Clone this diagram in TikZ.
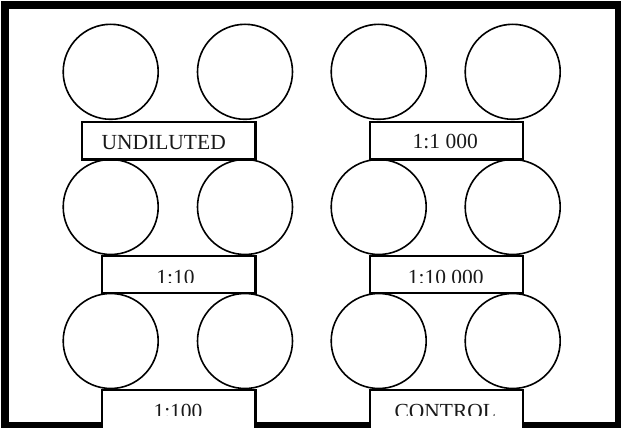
\documentclass[tikz,border=0pt]{standalone}
\usepackage{fontspec}
\setmainfont{Liberation Serif}
\begin{document}
\begin{tikzpicture}[x=1pt,y=-1pt,
  well/.style={draw, circle, line width=1.6pt, minimum size=95pt, inner sep=0pt},
  lblbox/.style={draw, fill=white, rectangle, line width=2.4pt, inner sep=0pt},
  lbltext/.style={inner sep=0pt, anchor=base, font=\fontsize{21.5}{24}\selectfont, text=black!90}]
\useasboundingbox (0,0) rectangle (621,428);
\clip (0,0) rectangle (621,428);
% frame
\draw[line width=7.5pt] (5,5) rectangle (618.5,425.5);
% wells
\foreach \r/\y in {1/71.8,2/207,3/341}{
  \foreach \c/\x in {1/110.7,2/245,3/378.7,4/512.7}{
    \node[well] (w\r\c) at (\x,\y) {};
  }
}
% label boxes
\node[lblbox, minimum width=173.6pt, minimum height=37.6pt] (bu) at (168.7,140.7) {};
\node[lbltext] (tu) at (163.7,149) {UNDILUTED};
\node[lblbox, minimum width=152.9pt, minimum height=37.3pt] (bk) at (446.65,140.85) {};
\node[lbltext] (tk) at (445.2,148.8) {1:1 000};
\node[lblbox, minimum width=153.3pt, minimum height=36.9pt] (bt) at (178.85,274.65) {};
\node[lblbox, minimum width=152.9pt, minimum height=36.9pt] (btk) at (446.65,274.65) {};
\node[lblbox, minimum width=153.3pt, minimum height=49.8pt] (bh) at (178.85,415.1) {};
\node[lblbox, minimum width=152.9pt, minimum height=49.8pt] (bc) at (446.65,415.1) {};
\begin{scope}
  \clip (101,256) rectangle (257,282.7);
  \node[lbltext] (tt) at (175.5,284.5) {1:10};
\end{scope}
\begin{scope}
  \clip (369,256) rectangle (524,282.7);
  \node[lbltext] (ttk) at (445.8,284.5) {1:10 000};
\end{scope}
\begin{scope}
  \clip (101,390) rectangle (257,415.7);
  \node[lbltext] (th) at (178,418.8) {1:100};
\end{scope}
\begin{scope}
  \clip (369,390) rectangle (524,415.7);
  \node[lbltext] (tc) at (445.3,418.8) {CONTROL};
\end{scope}
\end{tikzpicture}
\end{document}
